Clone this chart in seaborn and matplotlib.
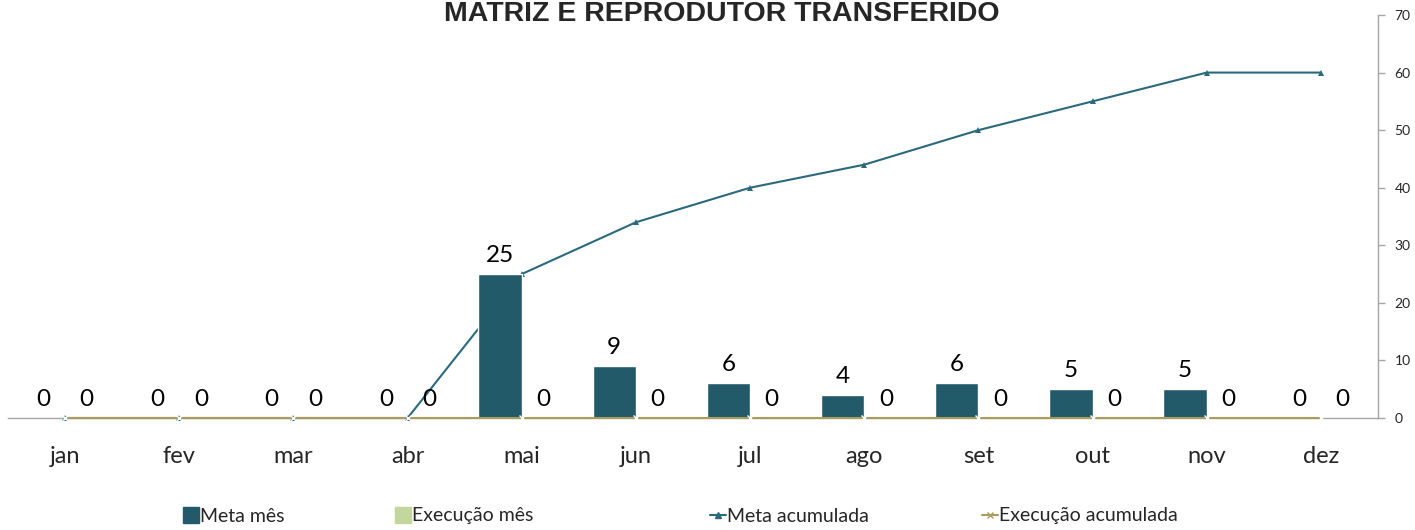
import numpy as np
import pandas as pd
import matplotlib
matplotlib.use("Agg")
import matplotlib.pyplot as plt
import seaborn as sns
from matplotlib.lines import Line2D

# dados do grafico
meses = ["jan", "fev", "mar", "abr", "mai", "jun", "jul", "ago", "set", "out", "nov", "dez"]
meta_mes = [0, 0, 0, 0, 25, 9, 6, 4, 6, 5, 5, 0]
execucao_mes = [0, 0, 0, 0, 0, 0, 0, 0, 0, 0, 0, 0]
meta_acumulada = [0, 0, 0, 0, 25, 34, 40, 44, 50, 55, 60, 60]
execucao_acumulada = [0, 0, 0, 0, 0, 0, 0, 0, 0, 0, 0, 0]
titulo = "MATRIZ E REPRODUTOR TRANSFERIDO"
nomes = ["Meta mês", "Execução mês", "Meta acumulada", "Execução acumulada"]

cor_meta = "#235A69"
cor_exec = "#C3D69B"
cor_meta_ac = "#2A6A7C"
cor_exec_ac = "#A99D5E"
cinza = "#A6A6A6"

sns.set_theme(style="white")
plt.rcParams["font.family"] = ["Lato", "DejaVu Sans"]

barras = pd.DataFrame({
    "mes": meses * 2,
    "valor": meta_mes + execucao_mes,
    "serie": [nomes[0]] * 12 + [nomes[1]] * 12,
})

fig = plt.figure(figsize=(14.15, 5.30), dpi=100)
ax = fig.add_axes([8 / 1415, 1 - 418 / 530, 1370 / 1415, 403 / 530])

# meta acumulada fica por baixo das barras
sns.lineplot(x=meses, y=meta_acumulada, ax=ax, color=cor_meta_ac, marker="^",
             markersize=5, markeredgewidth=0, linewidth=1.5, sort=False, zorder=1,
             clip_on=False)

sns.barplot(data=barras, x="mes", y="valor", hue="serie", ax=ax,
            palette=[cor_meta, cor_exec], width=0.76, gap=0, legend=False,
            saturation=1, zorder=2)

# execucao acumulada (zero) por cima do eixo
sns.lineplot(x=meses, y=execucao_acumulada, ax=ax, color=cor_exec_ac, marker="x",
             markersize=4, markeredgewidth=1, linewidth=1.5, sort=False, zorder=4,
             clip_on=False)

for cont in ax.containers:
    ax.bar_label(cont, labels=[f"{int(v)}" for v in cont.datavalues],
                 padding=6, fontsize=17.5, color="black")

ax.set_xlim(-0.5, 11.5)
ax.set_ylim(0, 70)
ax.set_xlabel("")
ax.set_ylabel("")

# eixo x
ax.set_xticks(np.arange(12))
ax.set_xticklabels(meses, fontsize=17)
ax.set_xticks(np.arange(-0.5, 12, 1), minor=True)
ax.tick_params(axis="x", which="major", length=0, pad=20)
ax.tick_params(axis="x", which="minor", length=8, width=1, color=cinza, direction="out")

# eixo y a direita
ax.yaxis.tick_right()
ax.set_yticks(np.arange(0, 71, 10))
ax.tick_params(axis="y", which="major", length=5, width=1, color=cinza,
               direction="out", labelsize=10, pad=7)

for lado in ["top", "left"]:
    ax.spines[lado].set_visible(False)
for lado in ["bottom", "right"]:
    ax.spines[lado].set_color(cinza)
    ax.spines[lado].set_linewidth(1)

fig.text(722 / 1415, 1 - 21 / 530, titulo, ha="center", va="baseline",
         fontsize=20.5, fontweight="bold", family=["Liberation Sans", "DejaVu Sans"])

handles = [
    Line2D([], [], marker="s", linestyle="none", color=cor_meta, markersize=11),
    Line2D([], [], marker="s", linestyle="none", color=cor_exec, markersize=11),
    Line2D([], [], marker="^", color=cor_meta_ac, markersize=5, linewidth=1.5),
    Line2D([], [], marker="x", color=cor_exec_ac, markersize=4, linewidth=1.5),
]
pos_legenda = [183, 395, 710, 982]
for h, nome, px in zip(handles, nomes, pos_legenda):
    fig.legend([h], [nome], loc="center left", bbox_to_anchor=(px / 1415, 1 - 516 / 530),
               frameon=False, fontsize=14, handlelength=0.8, handletextpad=0.05,
               borderaxespad=0, borderpad=0)

fig.savefig("out.png", dpi=100)
